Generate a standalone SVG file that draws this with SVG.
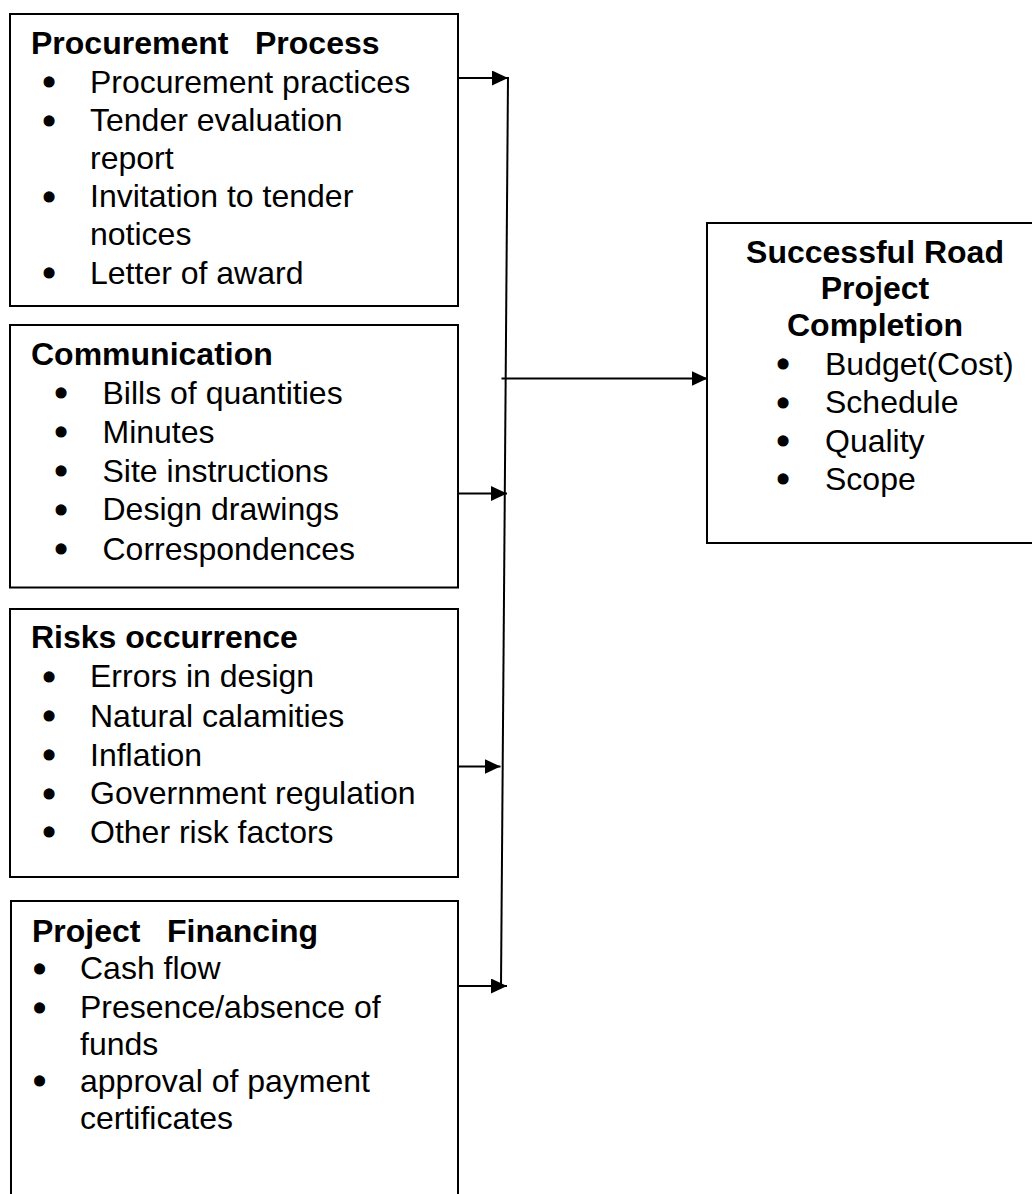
<svg xmlns="http://www.w3.org/2000/svg" width="1032" height="1194" viewBox="0 0 1032 1194">
<style>
  .box { fill: #ffffff; stroke: #000000; stroke-width: 2; }
  .t { font-family: "Liberation Sans", Arial, sans-serif; font-size: 32px; fill: #000000; }
  .b { font-weight: bold; }
  .bul { font-family: "Liberation Sans", Arial, sans-serif; font-size: 36px; fill: #000000; stroke: #000000; stroke-width: 1.2; text-anchor: middle; }
  .c { text-anchor: middle; }
  .conn { stroke: #000000; stroke-width: 2; fill: none; }
</style>
<defs>
  <marker id="arrow" viewBox="0 0 16 15" refX="16" refY="7.5" markerWidth="16" markerHeight="15" markerUnits="userSpaceOnUse" orient="auto">
    <path d="M0,0 L16,7.5 L0,15 Z" fill="#000000"/>
  </marker>
</defs>
<rect width="1032" height="1194" fill="#ffffff"/>

<g id="procurement">
  <rect class="box" x="10" y="14" width="448" height="292"/>
  <text class="t b" x="31" y="54">Procurement</text>
  <text class="t b" x="255" y="54">Process</text>
  <text class="bul" x="49" y="94">•</text>
  <text class="t" x="90" y="92.5">Procurement practices</text>
  <text class="bul" x="49" y="132.5">•</text>
  <text class="t" x="90" y="131">Tender evaluation</text>
  <text class="t" x="90" y="168.5">report</text>
  <text class="bul" x="49" y="208.5">•</text>
  <text class="t" x="90" y="207">Invitation to tender</text>
  <text class="t" x="90" y="245">notices</text>
  <text class="bul" x="49" y="285">•</text>
  <text class="t" x="90" y="283.5">Letter of award</text>
</g>

<g id="communication">
  <rect class="box" x="10" y="325" width="448" height="262.5"/>
  <text class="t b" x="31" y="365">Communication</text>
  <text class="bul" x="61" y="405">•</text>
  <text class="t" x="102.5" y="403.5">Bills of quantities</text>
  <text class="bul" x="61" y="444">•</text>
  <text class="t" x="102.5" y="442.5">Minutes</text>
  <text class="bul" x="61" y="483">•</text>
  <text class="t" x="102.5" y="481.5">Site instructions</text>
  <text class="bul" x="61" y="521.5">•</text>
  <text class="t" x="102.5" y="520">Design drawings</text>
  <text class="bul" x="61" y="561">•</text>
  <text class="t" x="102.5" y="559.5">Correspondences</text>
</g>

<g id="risks">
  <rect class="box" x="10" y="609" width="448" height="268"/>
  <text class="t b" x="31" y="648">Risks occurrence</text>
  <text class="bul" x="49" y="688.5">•</text>
  <text class="t" x="90" y="687">Errors in design</text>
  <text class="bul" x="49" y="728">•</text>
  <text class="t" x="90" y="726.5">Natural calamities</text>
  <text class="bul" x="49" y="767">•</text>
  <text class="t" x="90" y="765.5">Inflation</text>
  <text class="bul" x="49" y="805.5">•</text>
  <text class="t" x="90" y="804">Government regulation</text>
  <text class="bul" x="49" y="844">•</text>
  <text class="t" x="90" y="842.5">Other risk factors</text>
</g>

<g id="financing">
  <rect class="box" x="11" y="901" width="447" height="320"/>
  <text class="t b" x="32" y="941.5">Project</text>
  <text class="t b" x="167" y="941.5">Financing</text>
  <text class="bul" x="39.5" y="980.5">•</text>
  <text class="t" x="80" y="979">Cash flow</text>
  <text class="bul" x="39.5" y="1019.5">•</text>
  <text class="t" x="80" y="1018">Presence/absence of</text>
  <text class="t" x="80" y="1055">funds</text>
  <text class="bul" x="39.5" y="1093">•</text>
  <text class="t" x="80" y="1091.5">approval of payment</text>
  <text class="t" x="80" y="1129">certificates</text>
</g>

<g id="completion">
  <rect class="box" x="707" y="223" width="340" height="320"/>
  <text class="t b c" x="875" y="262.5">Successful Road</text>
  <text class="t b c" x="875" y="299">Project</text>
  <text class="t b c" x="875" y="335.5">Completion</text>
  <text class="bul" x="783" y="376">•</text>
  <text class="t" x="825" y="374.5">Budget(Cost)</text>
  <text class="bul" x="783" y="414.5">•</text>
  <text class="t" x="825" y="413">Schedule</text>
  <text class="bul" x="783" y="453">•</text>
  <text class="t" x="825" y="451.5">Quality</text>
  <text class="bul" x="783" y="491">•</text>
  <text class="t" x="825" y="489.5">Scope</text>
</g>

<g id="connectors">
  <line class="conn" x1="508" y1="77" x2="501" y2="986"/>
  <line class="conn" x1="458" y1="78" x2="508" y2="78" marker-end="url(#arrow)"/>
  <line class="conn" x1="458" y1="493.5" x2="507" y2="493.5" marker-end="url(#arrow)"/>
  <line class="conn" x1="458" y1="766.5" x2="500.5" y2="766.5" marker-end="url(#arrow)"/>
  <line class="conn" x1="458" y1="986" x2="507" y2="986" marker-end="url(#arrow)"/>
  <line class="conn" x1="501.5" y1="378.5" x2="707.5" y2="378.5" marker-end="url(#arrow)"/>
</g>
</svg>
